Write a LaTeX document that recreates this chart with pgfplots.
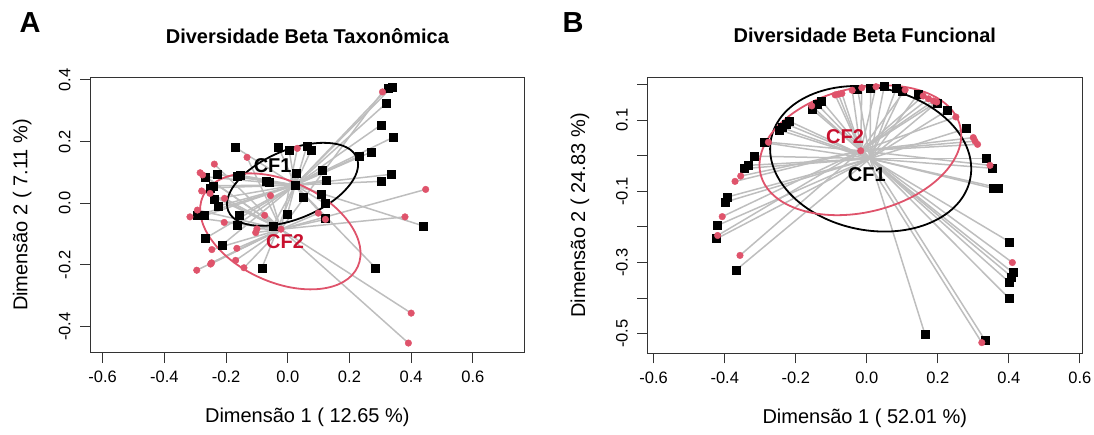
\documentclass[border=0pt]{standalone}
\usepackage{fontspec}
\setmainfont{Liberation Sans}
\usepackage{pgfplots}
\pgfplotsset{compat=1.18}
\usepackage{pgfplotstable}

\definecolor{rred}{HTML}{DF536B}
\definecolor{labred}{HTML}{C8102E}
\definecolor{seg}{HTML}{BEBEBE}

% taxonomic: CF1 (black) and CF2 (red) site scores
\pgfplotstableread{
x y
0.324 0.373
0.337 0.376
0.319 0.324
0.302 0.254
0.342 0.214
0.270 0.166
0.232 0.153
0.336 0.094
0.302 0.071
0.438 -0.073
0.285 -0.210
-0.084 -0.210
-0.214 -0.136
-0.266 -0.113
-0.165 -0.070
-0.048 -0.073
-0.001 -0.035
0.122 -0.048
0.120 0.000
0.107 0.030
0.051 0.019
0.024 0.058
0.126 0.076
0.110 0.108
0.027 0.097
-0.071 0.070
-0.061 0.067
-0.165 0.088
-0.155 0.091
-0.228 0.094
-0.268 0.086
-0.241 0.057
-0.250 0.050
-0.238 0.013
-0.224 -0.009
-0.270 -0.040
-0.295 -0.040
-0.158 -0.039
-0.171 0.182
-0.030 0.182
0.004 0.173
0.062 0.186
0.076 0.173
}\taxA
\pgfplotstableread{
x y
0.307 0.361
0.447 0.045
0.380 -0.044
0.400 -0.356
0.391 -0.453
0.099 -0.032
0.122 -0.052
0.031 0.178
-0.132 0.149
-0.238 0.127
-0.284 0.099
-0.276 0.092
-0.279 0.040
-0.252 0.032
-0.205 0.016
-0.056 0.025
-0.293 -0.022
-0.317 -0.044
-0.206 -0.062
-0.075 -0.039
-0.100 -0.083
-0.104 -0.095
-0.022 -0.084
-0.165 -0.146
-0.246 -0.150
-0.250 -0.197
-0.247 -0.193
-0.169 -0.185
-0.142 -0.209
-0.295 -0.217
}\taxB

% functional
\pgfplotstableread{
x y
-0.026 0.188
-0.127 0.154
-0.139 0.144
-0.153 0.130
-0.218 0.097
-0.228 0.090
-0.239 0.079
-0.246 0.072
-0.289 0.037
-0.318 -0.001
-0.334 -0.027
-0.345 -0.036
-0.393 -0.116
-0.398 -0.130
-0.421 -0.196
-0.423 -0.233
-0.369 -0.322
0.011 0.191
0.049 0.194
0.083 0.189
0.101 0.182
0.145 0.174
0.197 0.149
0.227 0.128
0.279 0.076
0.336 -0.008
0.352 -0.035
0.357 -0.092
0.371 -0.090
0.402 -0.242
0.411 -0.328
0.408 -0.340
0.402 -0.356
0.401 -0.401
0.164 -0.502
0.333 -0.518
}\funA
\pgfplotstableread{
x y
-0.041 0.184
-0.070 0.175
-0.080 0.173
-0.089 0.171
-0.155 0.140
-0.277 0.038
-0.355 -0.057
-0.371 -0.072
-0.407 -0.171
-0.420 -0.224
-0.357 -0.280
-0.014 0.191
0.026 0.194
0.108 0.185
0.159 0.168
0.174 0.160
0.188 0.154
0.197 0.151
0.251 0.109
0.300 0.051
0.305 0.041
0.312 0.032
0.347 -0.027
0.410 -0.300
0.324 -0.525
-0.017 0.014
}\funB

\pgfplotsset{
  rplot/.style={
    scale only axis, anchor=south west,
    axis line style={line width=1pt, black!80},
    tick align=outside, major tick length=10pt,
    xtick pos=bottom, ytick pos=left,
    tick style={line width=1pt, black!80},
    ticklabel style={font=\fontsize{16.5}{18}\selectfont},
    xticklabel shift=5pt, yticklabel shift=6pt,
    yticklabel style={rotate=90, anchor=south},
    label style={font=\fontsize{20}{22}\selectfont},
    title style={font=\bfseries\fontsize{20}{22}\selectfont, anchor=center},
    xtick={-0.6,-0.4,-0.2,0,0.2,0.4,0.6},
    /pgf/number format/.cd, fixed, fixed zerofill, precision=1, assume math mode=true,
  },
  segs/.style={seg, line width=1.5pt},
  sq/.style={only marks, mark=square*, mark size=4.0pt, mark options={black, fill=black}},
  dot/.style={only marks, mark=*, mark size=3.3pt, mark options={rred, fill=rred}},
}
\tikzset{cflab/.style={font=\bfseries\fontsize{20}{22}\selectfont}}

\begin{document}
\begin{tikzpicture}
\path[use as bounding box] (0pt,0pt) rectangle (1094pt,434pt);

\begin{axis}[rplot, at={(90pt,81.3pt)}, width=434.7pt, height=275.4pt,
  xmin=-0.641, xmax=0.768, ymin=-0.4843, ymax=0.4084,
  ytick={-0.4,-0.2,0,0.2,0.4},
  title={Diversidade Beta Taxonômica},
  title style={at={(axis description cs:0.5,1.127)}},
  xlabel={Dimensão 1 ( 12.65 \%)},
  xlabel style={at={(axis description cs:0.5,-0.236)}, anchor=center},
  ylabel={Dimensão 2 ( 7.11 \%)},
  ylabel style={at={(axis description cs:-0.156,0.5)}, anchor=center}]
\addplot[segs, quiver={u={0.024-(\thisrow{x})}, v={0.059-(\thisrow{y})}}] table {\taxA};
\addplot[segs, quiver={u={-0.022-(\thisrow{x})}, v={-0.084-(\thisrow{y})}}] table {\taxB};
\draw[black, line width=1.8pt] (axis cs:0.0155,0.0615) ellipse [x radius=0.2254, y radius=0.1115, rotate=22.6];
\draw[rred, line width=1.8pt] (axis cs:-0.024,-0.091) ellipse [x radius=0.2757, y radius=0.164, rotate=-24.5];
\addplot[sq] table {\taxA};
\addplot[dot] table {\taxB};
\node[cflab, black] at (axis cs:-0.049,0.121) {CF1};
\node[cflab, labred] at (axis cs:-0.009,-0.124) {CF2};
\end{axis}

\begin{axis}[rplot, at={(647.3pt,80.7pt)}, width=435pt, height=275.5pt,
  xmin=-0.618, xmax=0.607, ymin=-0.555, ymax=0.219,
  ytick={-0.5,-0.3,-0.1,0.1},
  extra y ticks={-0.4,-0.2,0,0.2}, extra y tick labels={},
  title={Diversidade Beta Funcional},
  title style={at={(axis description cs:0.5,1.131)}},
  xlabel={Dimensão 1 ( 52.01 \%)},
  xlabel style={at={(axis description cs:0.5,-0.235)}, anchor=center},
  ylabel={Dimensão 2 ( 24.83 \%)},
  ylabel style={at={(axis description cs:-0.1547,0.5)}, anchor=center}]
\addplot[segs, quiver={u={0.009-(\thisrow{x})}, v={-0.008-(\thisrow{y})}}] table {\funA};
\addplot[segs, quiver={u={-0.017-(\thisrow{x})}, v={0.014-(\thisrow{y})}}] table {\funB};
\draw[black, line width=1.8pt] (axis cs:0.011,-0.0085) ellipse [x radius=0.286, y radius=0.2005, rotate=-11.4];
\draw[rred, line width=1.8pt] (axis cs:-0.018,0.0155) ellipse [x radius=0.289, y radius=0.1745, rotate=13.4];
\addplot[sq] table {\funA};
\addplot[dot] table {\funB};
\node[cflab, labred] at (axis cs:-0.061,0.0525) {CF2};
\node[cflab, black] at (axis cs:0.0,-0.052) {CF1};
\end{axis}

\node[font=\bfseries\fontsize{29}{30}\selectfont] at (30pt,411pt) {A};
\node[font=\bfseries\fontsize{29}{30}\selectfont] at (573pt,411pt) {B};
\end{tikzpicture}
\end{document}
